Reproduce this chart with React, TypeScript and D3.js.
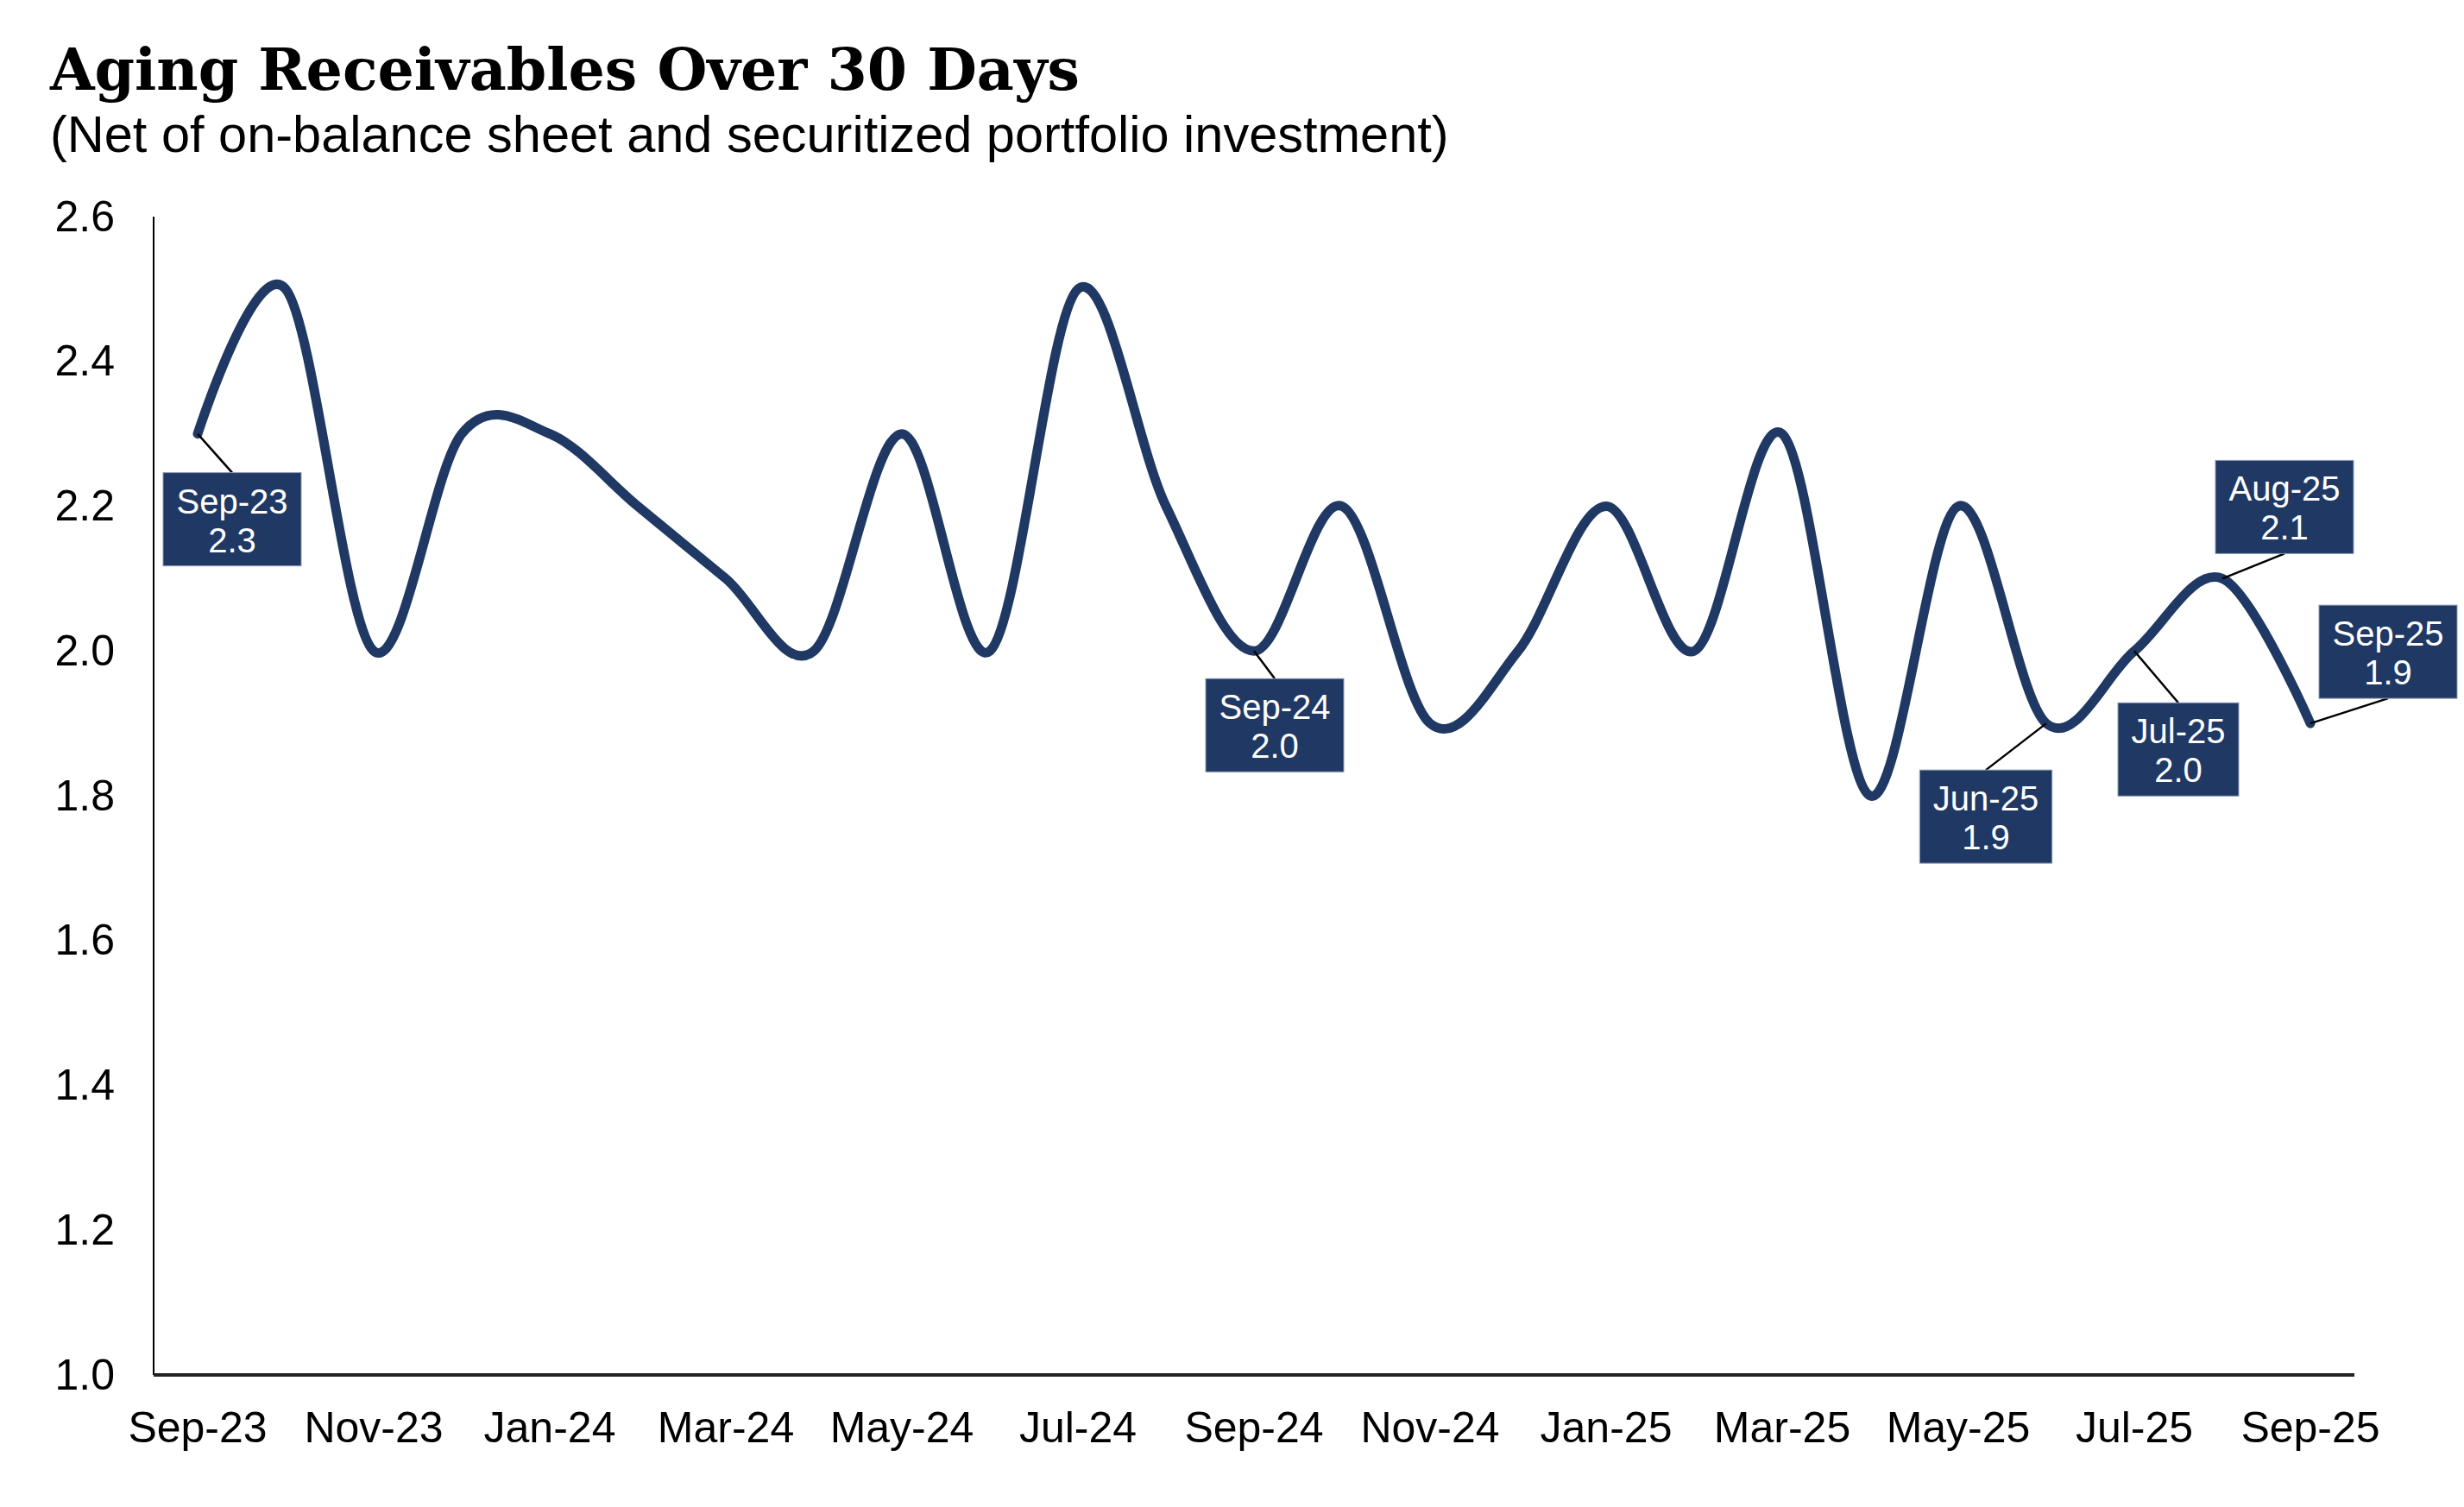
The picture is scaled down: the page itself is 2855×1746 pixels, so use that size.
import { useRef, useEffect } from 'react';
import * as d3 from 'd3';

const months = [
  'Sep-23', 'Oct-23', 'Nov-23', 'Dec-23', 'Jan-24', 'Feb-24', 'Mar-24', 'Apr-24', 'May-24',
  'Jun-24', 'Jul-24', 'Aug-24', 'Sep-24', 'Oct-24', 'Nov-24', 'Dec-24', 'Jan-25', 'Feb-25',
  'Mar-25', 'Apr-25', 'May-25', 'Jun-25', 'Jul-25', 'Aug-25', 'Sep-25',
];
const values = [
  2.3, 2.5, 2.0, 2.3, 2.3, 2.2, 2.1, 2.0, 2.3,
  2.0, 2.5, 2.2, 2.0, 2.2, 1.9, 2.0, 2.2, 2.0,
  2.3, 1.8, 2.2, 1.9, 2.0, 2.1, 1.9,
];
const yTicks = [1.0, 1.2, 1.4, 1.6, 1.8, 2.0, 2.2, 2.4, 2.6];
const labelledMonths = ['Sep-23', 'Sep-24', 'Jun-25', 'Jul-25', 'Aug-25', 'Sep-25'];

const title = 'Aging Receivables Over 30 Days';
const subtitle = '(Net of on-balance sheet and securitized portfolio investment)';

// box centre offsets from the data point, in px
const calloutOffsets: Record<string, [number, number]> = {
  'Sep-23': [40, 99],
  'Sep-24': [24, 86],
  'Jun-25': [-70, 108],
  'Jul-25': [51, 114],
  'Aug-25': [72, -83],
  'Sep-25': [90, -83],
};

const W = 2855;
const H = 1746;
const NAVY = '#1f3864';
const SANS = "Arial, 'Liberation Sans', Helvetica, sans-serif";

export default function App() {
  const ref = useRef<SVGSVGElement>(null);

  useEffect(() => {
    const svg = d3.select(ref.current);
    svg.selectAll('*').remove();

    const margin = { top: 251, left: 178, right: W - 2728, bottom: H - 1593 };
    const x = d3.scaleBand().domain(months).range([margin.left, W - margin.right]);
    const y = d3.scaleLinear().domain([1.0, 2.6]).range([H - margin.bottom, margin.top]);
    const cx = (m: string) => (x(m) as number) + x.bandwidth() / 2;

    svg.append('text')
      .attr('x', 58).attr('y', 104)
      .attr('font-family', "Georgia, 'DejaVu Serif', serif")
      .attr('font-weight', 'bold')
      .attr('font-size', 66.5)
      .attr('fill', '#000')
      .text(title);

    svg.append('text')
      .attr('x', 58).attr('y', 176)
      .attr('font-family', SANS)
      .attr('font-size', 59.5)
      .attr('fill', '#000')
      .text(subtitle);

    // y axis
    const yAxis = svg.append('g')
      .attr('transform', `translate(${margin.left},0)`)
      .call(d3.axisLeft(y).tickValues(yTicks).tickFormat(d3.format('.1f')).tickSize(0).tickPadding(45));
    yAxis.select('.domain').remove();
    yAxis.selectAll('text').attr('font-family', SANS).attr('font-size', 50).attr('fill', '#000');
    svg.append('line')
      .attr('x1', margin.left).attr('x2', margin.left)
      .attr('y1', margin.top).attr('y2', H - margin.bottom)
      .attr('stroke', '#000').attr('stroke-width', 2);

    // x axis
    const xAxis = svg.append('g')
      .attr('transform', `translate(0,${H - margin.bottom})`)
      .call(d3.axisBottom(x).tickValues(months.filter((_, i) => i % 2 === 0)).tickSize(0).tickPadding(42));
    xAxis.select('.domain').remove();
    xAxis.selectAll('text').attr('font-family', SANS).attr('font-size', 50).attr('fill', '#000');
    svg.append('line')
      .attr('x1', margin.left).attr('x2', W - margin.right)
      .attr('y1', H - margin.bottom).attr('y2', H - margin.bottom)
      .attr('stroke', '#222').attr('stroke-width', 4);

    // series
    const line = d3.line<number>()
      .x((_, i) => cx(months[i]))
      .y((d) => y(d))
      .curve(d3.curveCardinal.tension(0));
    svg.append('path')
      .datum(values)
      .attr('d', line)
      .attr('fill', 'none')
      .attr('stroke', NAVY)
      .attr('stroke-width', 11)
      .attr('stroke-linecap', 'round')
      .attr('stroke-linejoin', 'round');

    // callouts
    const boxH = 108;
    labelledMonths.forEach((m) => {
      const i = months.indexOf(m);
      const px = cx(m);
      const py = y(values[i]);
      const [dx, dy] = calloutOffsets[m];
      const bx = px + dx;
      const by = py + dy;
      const g = svg.append('g');
      const rect = g.append('rect');
      const t1 = g.append('text')
        .attr('x', bx).attr('y', by - 7)
        .attr('text-anchor', 'middle')
        .attr('font-family', SANS).attr('font-size', 40).attr('fill', '#fff')
        .text(m);
      g.append('text')
        .attr('x', bx).attr('y', by + 38)
        .attr('text-anchor', 'middle')
        .attr('font-family', SANS).attr('font-size', 40).attr('fill', '#fff')
        .text(d3.format('.1f')(values[i]));
      const tw = (t1.node() as SVGTextElement).getComputedTextLength();
      const bw = tw + 31;
      rect
        .attr('x', bx - bw / 2).attr('y', by - boxH / 2)
        .attr('width', bw).attr('height', boxH)
        .attr('fill', NAVY)
        .attr('stroke', '#8a9ab5').attr('stroke-width', 1);
      const edgeY = dy > 0 ? by - boxH / 2 : by + boxH / 2;
      g.insert('line', 'rect')
        .attr('x1', px).attr('y1', py)
        .attr('x2', bx).attr('y2', edgeY)
        .attr('stroke', '#000').attr('stroke-width', 2.5);
    });
  }, []);

  return (
    <svg
      ref={ref}
      width={W}
      height={H}
      style={{ position: 'absolute', left: 0, top: 0, background: '#fff' }}
    />
  );
}
